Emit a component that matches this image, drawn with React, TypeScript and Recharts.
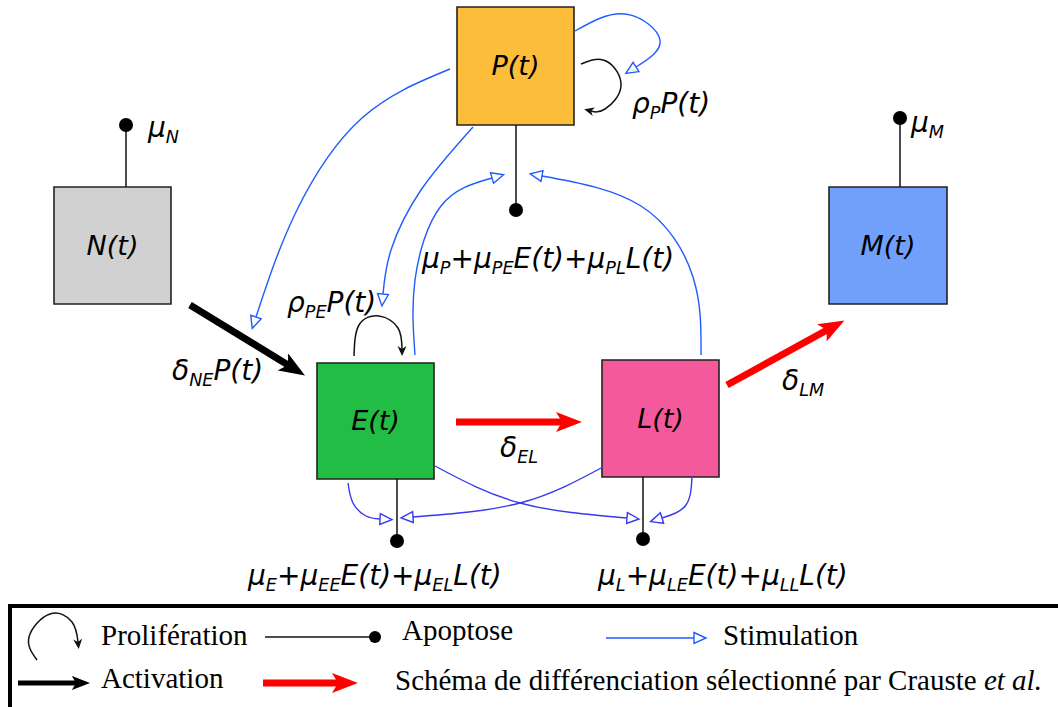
import { ComposedChart, XAxis, YAxis, Line, Scatter, ReferenceArea } from 'recharts';

const WIDTH = 1058;
const HEIGHT = 707;

const BLUE = '#1f5cff';
const BLUE_LOW = '#3838f0';
const RED = '#ff0000';
const INK = '#111111';

type Pt = { x: number; y: number };

// compartments of the model (canvas units, y grows downward)
const compartments = [
  { id: 'P', label: 'P(t)', x1: 457, x2: 574, y1: 7, y2: 125 },
  { id: 'N', label: 'N(t)', x1: 54, x2: 171, y1: 187, y2: 304 },
  { id: 'M', label: 'M(t)', x1: 829, x2: 947, y1: 187, y2: 304 },
  { id: 'E', label: 'E(t)', x1: 317, x2: 434, y1: 363, y2: 479 },
  { id: 'L', label: 'L(t)', x1: 602, x2: 719, y1: 360, y2: 477 },
];
const fills: Record<string, string> = {
  P: '#fcbd3a',
  N: '#d1d1d1',
  M: '#70a0fa',
  E: '#22bd45',
  L: '#f45a9b',
};

// death terms: box edge -> dot
const apoptosis: Pt[][] = [
  [{ x: 126, y: 187 }, { x: 126, y: 125 }],
  [{ x: 900, y: 187 }, { x: 900, y: 118 }],
  [{ x: 516, y: 125 }, { x: 516, y: 210 }],
  [{ x: 397, y: 479 }, { x: 397, y: 541 }],
  [{ x: 643, y: 477 }, { x: 643, y: 539 }],
];

// N -> E
const activation: Pt[][] = [[{ x: 190, y: 305 }, { x: 288, y: 365 }]];

// E -> L -> M
const differentiation: Pt[][] = [
  [{ x: 456, y: 422 }, { x: 562, y: 422 }],
  [{ x: 727, y: 385 }, { x: 827, y: 330 }],
];

// self renewal loops
const proliferation: Pt[][] = [
  [{ x: 581, y: 64 }, { x: 606, y: 61 }, { x: 621, y: 86 }, { x: 605, y: 109 }, { x: 591, y: 111 }],
  [{ x: 354, y: 356 }, { x: 359, y: 325 }, { x: 379, y: 316 }, { x: 398, y: 328 }, { x: 402, y: 349 }],
];

// feedback arrows around P
const stimulationTop: Pt[][] = [
  [{ x: 450, y: 69 }, { x: 362, y: 118 }, { x: 296, y: 212 }, { x: 256, y: 317 }],
  [{ x: 473, y: 127 }, { x: 421, y: 190 }, { x: 391, y: 250 }, { x: 383, y: 294 }],
  [{ x: 415, y: 355 }, { x: 415, y: 280 }, { x: 441, y: 206 }, { x: 492, y: 178 }],
  [{ x: 701, y: 355 }, { x: 693, y: 277 }, { x: 641, y: 206 }, { x: 542, y: 176 }],
  [{ x: 575, y: 31 }, { x: 625, y: 14 }, { x: 660, y: 40 }, { x: 636, y: 67 }],
];

// feedback arrows on E / L deaths
const stimulationBottom: Pt[][] = [
  [{ x: 348, y: 483 }, { x: 353, y: 503 }, { x: 366, y: 516 }, { x: 380, y: 519 }],
  [{ x: 603, y: 467 }, { x: 520, y: 503 }, { x: 413, y: 517 }],
  [{ x: 435, y: 466 }, { x: 520, y: 503 }, { x: 627, y: 518 }],
  [{ x: 692, y: 476 }, { x: 686, y: 505 }, { x: 662, y: 518 }],
];

const formulas = [
  { x: 148, y: 137, text: 'μ_N' },
  { x: 911, y: 132, text: 'μ_M' },
  { x: 632, y: 113, text: 'ρ_PP(t)' },
  { x: 287, y: 312, text: 'ρ_{PE}P(t)' },
  { x: 172, y: 380, text: 'δ_{NE}P(t)' },
  { x: 500, y: 457, text: 'δ_{EL}' },
  { x: 782, y: 390, text: 'δ_{LM}' },
  { x: 422, y: 268, text: 'μ_P+μ_{PE}E(t)+μ_{PL}L(t)' },
  { x: 248, y: 585, text: 'μ_E+μ_{EE}E(t)+μ_{EL}L(t)' },
  { x: 598, y: 585, text: 'μ_L+μ_{LE}E(t)+μ_{LL}L(t)' },
];

// legend
const legendProliferation: Pt[] = [
  { x: 37, y: 660 }, { x: 29, y: 637 }, { x: 50, y: 614 }, { x: 72, y: 622 }, { x: 78, y: 642 },
];
const legendApoptosis: Pt[] = [{ x: 265, y: 637 }, { x: 375, y: 637 }];
const legendStimulation: Pt[] = [{ x: 606, y: 638 }, { x: 694, y: 638 }];
const legendActivation: Pt[] = [{ x: 18, y: 683 }, { x: 76, y: 683 }];
const legendDifferentiation: Pt[] = [{ x: 263, y: 683 }, { x: 338, y: 683 }];
const legendLabels = [
  { x: 101, y: 645, text: 'Prolifération' },
  { x: 402, y: 640, text: 'Apoptose' },
  { x: 723, y: 645, text: 'Stimulation' },
  { x: 101, y: 688, text: 'Activation' },
  { x: 395, y: 690, text: 'Schéma de différenciation sélectionné par Crauste *et al.*' },
];

const SANS = '"DejaVu Sans", sans-serif';
const SERIF = '"Liberation Serif", "Times New Roman", serif';

function RichText({ x, y, text, size, family, italic, anchor, dy }: any) {
  const tokens = String(text).split(/(_\{[^}]*\}|_.|\*[^*]*\*)/).filter(Boolean);
  const drop = Math.round(size * 0.2);
  let shift = 0;
  const spans = tokens.map((t: string, i: number) => {
    if (t.startsWith('_')) {
      const s = t.startsWith('_{') ? t.slice(2, -1) : t.slice(1);
      const d = drop - shift;
      shift = drop;
      return (
        <tspan key={i} dy={d} fontSize={size * 0.63}>
          {s}
        </tspan>
      );
    }
    const d = -shift;
    shift = 0;
    if (t.startsWith('*')) {
      return (
        <tspan key={i} dy={d} fontStyle="italic">
          {t.slice(1, -1)}
        </tspan>
      );
    }
    return (
      <tspan key={i} dy={d}>
        {t}
      </tspan>
    );
  });
  return (
    <text
      x={x}
      y={y + (dy || 0)}
      fontSize={size}
      fontFamily={family}
      fontStyle={italic ? 'italic' : 'normal'}
      textAnchor={anchor || 'start'}
      fill="#000"
    >
      {spans}
    </text>
  );
}

const pick = (p: any) => p.payload ?? p;

function curve(key: string, pts: Pt[], stroke: string, width: number, marker?: string) {
  return (
    <Line
      key={key}
      data={pts}
      dataKey="y"
      type="natural"
      stroke={stroke}
      strokeWidth={width}
      dot={false}
      activeDot={false}
      legendType="none"
      isAnimationActive={false}
      markerEnd={marker ? `url(#${marker})` : undefined}
    />
  );
}

export default function App() {
  const nodeCenters = compartments.map((c) => ({
    x: (c.x1 + c.x2) / 2,
    y: (c.y1 + c.y2) / 2,
    text: c.label,
  }));
  const deathDots = apoptosis.map((s) => s[s.length - 1]);

  return (
    <div style={{ width: WIDTH, height: HEIGHT, background: '#fff' }}>
      <style>{`body { margin: 0; background: #fff; }`}</style>
      <ComposedChart width={WIDTH} height={HEIGHT} margin={{ top: 0, right: 0, bottom: 0, left: 0 }}>
        <defs>
          <marker id="hollow" markerUnits="userSpaceOnUse" markerWidth={16} markerHeight={14} refX={1} refY={7} orient="auto">
            <path d="M1,1.5 L13,7 L1,12.5 z" fill="#fff" stroke={BLUE} strokeWidth={1.4} />
          </marker>
          <marker id="hollowLow" markerUnits="userSpaceOnUse" markerWidth={16} markerHeight={14} refX={1} refY={7} orient="auto">
            <path d="M1,1.5 L13,7 L1,12.5 z" fill="#fff" stroke={BLUE_LOW} strokeWidth={1.4} />
          </marker>
          <marker id="thin" markerUnits="userSpaceOnUse" markerWidth={12} markerHeight={10} refX={3} refY={5} orient="auto">
            <path d="M0,0.5 L10,5 L0,9.5 L3,5 z" fill={INK} />
          </marker>
          <marker id="bigBlack" markerUnits="strokeWidth" viewBox="0 0 26 20" markerWidth={3.7} markerHeight={2.86} refX={6} refY={10} orient="auto">
            <path d="M0,0 L26,10 L0,20 L6,10 z" fill="#000" />
          </marker>
          <marker id="bigRed" markerUnits="strokeWidth" viewBox="0 0 26 20" markerWidth={3.7} markerHeight={2.86} refX={6} refY={10} orient="auto">
            <path d="M0,0 L26,10 L0,20 L6,10 z" fill={RED} />
          </marker>
        </defs>
        <XAxis type="number" dataKey="x" domain={[0, WIDTH]} allowDataOverflow hide />
        <YAxis type="number" dataKey="y" domain={[0, HEIGHT]} allowDataOverflow reversed hide />

        {compartments.map((c) => (
          <ReferenceArea
            key={c.id}
            x1={c.x1}
            x2={c.x2}
            y1={c.y1}
            y2={c.y2}
            fill={fills[c.id]}
            fillOpacity={1}
            stroke="#222"
            strokeWidth={1.6}
            ifOverflow="visible"
          />
        ))}
        <ReferenceArea
          x1={10}
          x2={WIDTH + 10}
          y1={606}
          y2={HEIGHT + 10}
          fill="none"
          fillOpacity={0}
          stroke="#000"
          strokeWidth={4}
          ifOverflow="visible"
        />

        {stimulationTop.map((p, i) => curve(`st${i}`, p, BLUE, 1.4, 'hollow'))}
        {stimulationBottom.map((p, i) => curve(`sb${i}`, p, BLUE_LOW, 1.4, 'hollowLow'))}
        {apoptosis.map((p, i) => curve(`ap${i}`, p, INK, 1.5))}
        {proliferation.map((p, i) => curve(`pr${i}`, p, INK, 1.5, 'thin'))}
        {activation.map((p, i) => curve(`ac${i}`, p, '#000', 7, 'bigBlack'))}
        {differentiation.map((p, i) => curve(`df${i}`, p, RED, 7, 'bigRed'))}

        {curve('lg-pr', legendProliferation, INK, 1.5, 'thin')}
        {curve('lg-ap', legendApoptosis, INK, 1.3)}
        {curve('lg-st', legendStimulation, BLUE, 1.4, 'hollow')}
        {curve('lg-ac', legendActivation, '#000', 5, 'bigBlack')}
        {curve('lg-df', legendDifferentiation, RED, 7, 'bigRed')}

        <Scatter
          data={deathDots}
          isAnimationActive={false}
          shape={(p: any) => <circle cx={p.cx} cy={p.cy} r={7} fill="#000" />}
        />
        <Scatter
          data={[legendApoptosis[legendApoptosis.length - 1]]}
          isAnimationActive={false}
          shape={(p: any) => <circle cx={p.cx} cy={p.cy} r={6} fill="#000" />}
        />
        <Scatter
          data={nodeCenters}
          isAnimationActive={false}
          shape={(p: any) => (
            <RichText x={p.cx} y={p.cy} text={pick(p).text} size={27} family={SANS} italic anchor="middle" dy={9} />
          )}
        />
        <Scatter
          data={formulas}
          isAnimationActive={false}
          shape={(p: any) => <RichText x={p.cx} y={p.cy} text={pick(p).text} size={28} family={SANS} italic />}
        />
        <Scatter
          data={legendLabels}
          isAnimationActive={false}
          shape={(p: any) => <RichText x={p.cx} y={p.cy} text={pick(p).text} size={29} family={SERIF} />}
        />
      </ComposedChart>
    </div>
  );
}
